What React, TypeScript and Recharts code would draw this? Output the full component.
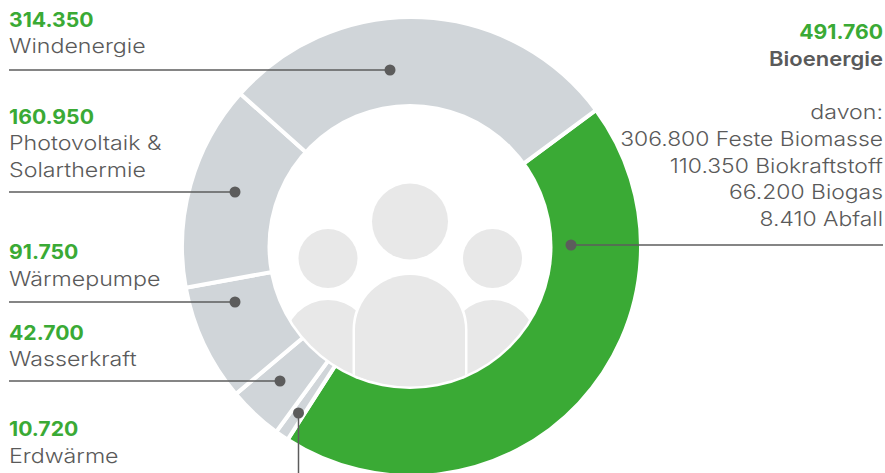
import { PieChart, Pie, Cell } from "recharts";

const categories = ["Bioenergie", "Erdwärme", "Wasserkraft", "Wärmepumpe", "Photovoltaik & Solarthermie", "Windenergie"];
const values = [491760, 10720, 42700, 91750, 160950, 314350];
const bioParts = ["306.800 Feste Biomasse", "110.350 Biokraftstoff", "66.200 Biogas", "8.410 Abfall"];

const data = categories.map((name, i) => ({ name, value: values[i] }));

const GREEN = "#3aaa35";
const GREY = "#d0d5d9";
const TEXT = "#5a5a5a";
const LINE = "#5c5c5c";
const ICON = "#e8e8e8";
const FONT = "Inter, sans-serif";

const fmt = (v: number) => v.toLocaleString("de-DE");

// Inter stretched a bit per weight, the original face is wider
function Txt({ x, y, children, anchor = "start", weight = 300, fill = TEXT, widen = 1.16 }: any) {
  return (
    <text
      transform={`translate(${x} ${y}) scale(${widen} 1)`}
      textAnchor={anchor}
      fill={fill}
      fontSize={20}
      fontWeight={weight}
      fontFamily={FONT}
    >
      {children}
    </text>
  );
}

function Value({ x, y, v, anchor = "start" }: { x: number; y: number; v: number; anchor?: "start" | "end" }) {
  return (
    <Txt x={x} y={y} anchor={anchor} weight={700} fill={GREEN} widen={1.06}>
      {fmt(v)}
    </Txt>
  );
}

function Leader({ x1, y1, x2, y2 }: { x1: number; y1: number; x2: number; y2: number }) {
  return (
    <g>
      <line x1={x1} y1={y1} x2={x2} y2={y2} stroke={LINE} strokeWidth={1.5} />
      <circle cx={x1} cy={y1} r={5.5} fill={LINE} />
    </g>
  );
}

function People() {
  return (
    <g>
      <defs>
        <clipPath id="inner">
          <circle cx={410} cy={246.5} r={140} />
        </clipPath>
      </defs>
      <circle cx={410} cy={246.5} r={142.5} fill="#fff" />
      <circle cx={410} cy={221.5} r={38} fill={ICON} />
      <circle cx={328} cy={258.5} r={29.5} fill={ICON} />
      <circle cx={492.5} cy={258.5} r={29.5} fill={ICON} />
      <g clipPath="url(#inner)">
        <path d="M285 400V343A43 43 0 0 1 371 343V400Z" fill={ICON} />
        <path d="M449.5 400V343A43 43 0 0 1 535.5 343V400Z" fill={ICON} />
        <path d="M355 400V330A55 55 0 0 1 465 330V400Z" fill={ICON} stroke="#fff" strokeWidth={5} paintOrder="stroke" />
      </g>
    </g>
  );
}

export default function App() {
  return (
    <div style={{ position: "absolute", left: 0, top: 0, width: 885, height: 473, overflow: "hidden" }}>
      <PieChart width={885} height={473} margin={{ top: 0, right: 0, bottom: 0, left: 0 }}>
        <Pie
          data={data}
          dataKey="value"
          cx={411.5}
          cy={246.5}
          innerRadius={136}
          outerRadius={229.5}
          startAngle={36.5}
          endAngle={-323.5}
          stroke="#fff"
          strokeWidth={4}
          isAnimationActive={false}
        >
          {data.map((d, i) => (
            <Cell key={d.name} fill={i === 0 ? GREEN : GREY} />
          ))}
        </Pie>
      </PieChart>
      {/* pie paints over chart children, so the callouts sit in their own layer */}
      <svg width={885} height={473} style={{ position: "absolute", left: 0, top: 0 }}>
        <People />

        <Value x={9} y={27} v={values[5]} />
        <Txt x={9} y={53}>Windenergie</Txt>
        <Leader x1={390} y1={70} x2={9} y2={70} />

        <Value x={9} y={124} v={values[4]} />
        <Txt x={9} y={150}>Photovoltaik &amp;</Txt>
        <Txt x={9} y={177}>Solarthermie</Txt>
        <Leader x1={235} y1={192} x2={9} y2={192} />

        <Value x={9} y={259} v={values[3]} />
        <Txt x={9} y={286}>Wärmepumpe</Txt>
        <Leader x1={235} y1={302} x2={9} y2={302} />

        <Value x={9} y={340} v={values[2]} />
        <Txt x={9} y={366}>Wasserkraft</Txt>
        <Leader x1={280} y1={381} x2={9} y2={381} />

        <Value x={9} y={436} v={values[1]} />
        <Txt x={9} y={463}>Erdwärme</Txt>
        <Leader x1={298.5} y1={413} x2={298.5} y2={473} />

        <Value x={883} y={39} v={values[0]} anchor="end" />
        <Txt x={883} y={66} anchor="end" weight={600} widen={1.1}>Bioenergie</Txt>
        <Txt x={883} y={119} anchor="end">davon:</Txt>
        {bioParts.map((p, i) => (
          <Txt key={p} x={883} y={146 + i * 26.7} anchor="end" widen={1.145}>{p}</Txt>
        ))}
        <Leader x1={571} y1={245} x2={883} y2={245} />
      </svg>
    </div>
  );
}
